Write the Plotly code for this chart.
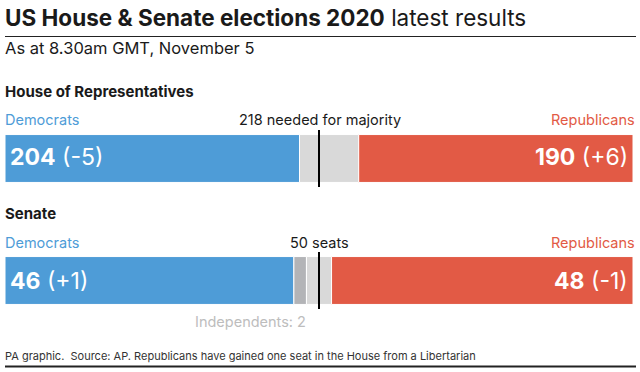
import plotly.graph_objects as go

# ---- data ----
house_parties = ["Democrats", "Undecided", "Republicans"]
house_seats = [204, 41, 190]
house_change = [-5, None, 6]
house_majority = 218

senate_parties = ["Democrats", "Independents", "Undecided", "Republicans"]
senate_seats = [46, 2, 4, 48]
senate_change = [1, None, None, -1]
senate_mark = 50

colors = {"Democrats": "#4e9cd7", "Republicans": "#e25a45",
          "Undecided": "#d9d9d9", "Independents": "#b3b4b7"}

W, H = 640, 372
def px(x): return x / W
def py(y): return 1 - y / H

FONT = "Inter"
fig = go.Figure()

def add_stack(parties, seats, xa, ya):
    base = 0
    for p, s in zip(parties, seats):
        fig.add_trace(go.Bar(
            y=[0], x=[s], base=[base], orientation="h", width=0.84,
            marker=dict(color=colors[p], line=dict(color="white", width=1)),
            xaxis=xa, yaxis=ya, showlegend=False, hoverinfo="skip"))
        base += s

add_stack(house_parties, house_seats, "x", "y")
add_stack(senate_parties, senate_seats, "x2", "y2")

xdom = [px(5), px(633)]
house_dom = [py(187), py(130)]
senate_dom = [py(309), py(252)]

fig.update_layout(
    width=W, height=H, margin=dict(l=0, r=0, t=0, b=0),
    paper_bgcolor="white", plot_bgcolor="white", barmode="overlay",
    xaxis=dict(domain=xdom, range=[0, sum(house_seats)], visible=False, fixedrange=True),
    yaxis=dict(domain=house_dom, range=[-0.5, 0.5], visible=False, fixedrange=True),
    xaxis2=dict(domain=xdom, range=[0, sum(senate_seats)], visible=False, anchor="y2", fixedrange=True),
    yaxis2=dict(domain=senate_dom, range=[-0.5, 0.5], visible=False, anchor="x2", fixedrange=True),
    font=dict(family=FONT, color="#1a1a1a"),
)

shapes = [
    dict(type="line", xref="x", yref="y", x0=house_majority - 0.5, x1=house_majority - 0.5,
         y0=-0.5, y1=0.5, line=dict(color="black", width=2)),
    dict(type="line", xref="x2", yref="y2", x0=senate_mark, x1=senate_mark,
         y0=-0.5, y1=0.5, line=dict(color="black", width=2)),
    dict(type="line", xref="paper", yref="paper", x0=px(5), x1=px(636), y0=py(36.5), y1=py(36.5),
         line=dict(color="#222", width=1)),
    dict(type="line", xref="paper", yref="paper", x0=px(5), x1=px(636), y0=py(366.5), y1=py(366.5),
         line=dict(color="#222", width=2)),
]
fig.update_layout(shapes=shapes)

ann = []
def text(x, y, t, size, color="#1a1a1a", xanchor="left", xref="paper", yref="paper"):
    ann.append(dict(x=x, y=y, xref=xref, yref=yref, text=t, showarrow=False,
                    xanchor=xanchor, yanchor="middle",
                    font=dict(family=FONT, size=size, color=color)))

text(px(3), py(18), "<b>US House &amp; Senate elections 2020</b> latest results", 22.5)
text(px(3), py(48), "As at 8.30am GMT, November 5", 16.5)

text(px(3), py(91), "<b>House of Representatives</b>", 15)
text(px(3), py(120), "Democrats", 14.5, colors["Democrats"])
text(px(637), py(120), "Republicans", 14.5, colors["Republicans"], xanchor="right")
text(px(320), py(120), f"{house_majority} needed for majority", 14.5, xanchor="center")

text(px(3), py(213), "<b>Senate</b>", 15)
text(px(3), py(242), "Democrats", 14.5, colors["Democrats"])
text(px(637), py(242), "Republicans", 14.5, colors["Republicans"], xanchor="right")
text(px(319), py(242), f"{senate_mark} seats", 14.5, xanchor="center")
text(px(308), py(321), f"Independents: {senate_seats[1]}", 14.5, "#bdbdbd", xanchor="right")

text(px(8), py(157), f"<b>{house_seats[0]}</b> ({house_change[0]:+d})", 23, "white")
text(px(630), py(157), f"<b>{house_seats[2]}</b> ({house_change[2]:+d})", 23, "white", xanchor="right")
text(px(8), py(281), f"<b>{senate_seats[0]}</b> ({senate_change[0]:+d})", 23, "white")
text(px(630), py(281), f"<b>{senate_seats[3]}</b> ({senate_change[3]:+d})", 23, "white", xanchor="right")

text(px(3), py(356), "PA graphic.  Source: AP. Republicans have gained one seat in the House from a Libertarian", 11, "#333")

fig.update_layout(annotations=ann)
fig.write_html("out.html", config={"displayModeBar": False},
               post_script="document.body.style.margin='0';document.body.style.overflow='hidden';")
